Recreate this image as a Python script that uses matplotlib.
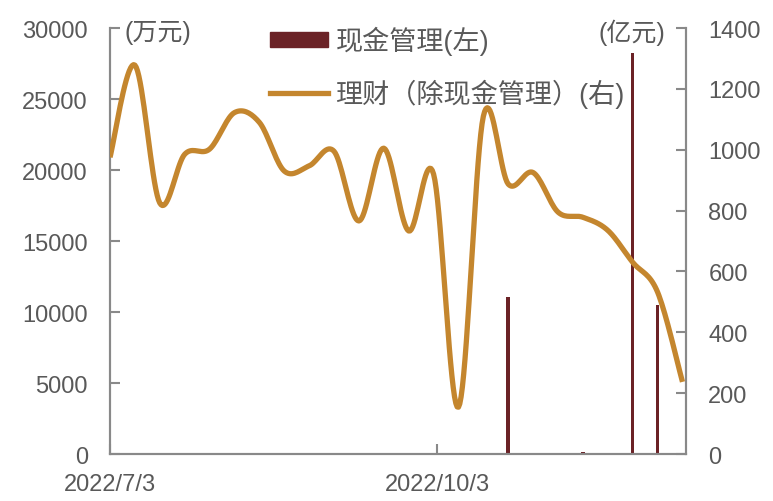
import numpy as np
import pandas as pd
import matplotlib
matplotlib.use("Agg")
import matplotlib.pyplot as plt
import matplotlib.dates as mdates
from matplotlib.patches import Patch
from matplotlib.lines import Line2D

plt.rcParams['font.family'] = ['Liberation Sans', 'Noto Sans CJK SC', 'DejaVu Sans']

# weekly data, Sundays from 2022/7/3
dates = pd.date_range('2022-07-03', periods=24, freq='7D')
wealth = [975, 1278, 825, 985, 1002, 1122, 1090, 930, 947, 995, 766, 1005,
          733, 920, 154, 1110, 887, 925, 795, 778, 735, 630, 532, 237]  # 亿元
cash_dates = pd.to_datetime(['2022-10-23', '2022-11-13', '2022-11-27', '2022-12-04'])
cash_vals = [11050, 120, 28250, 10500]  # 万元

line_color = '#C4862E'
bar_color = '#6B2226'
text_color = '#595959'
spine_color = '#898989'


def smooth(x, y, n=20):
    # Catmull-Rom style smoothing, like Excel's smoothed line
    x = np.asarray(x, float)
    y = np.asarray(y, float)
    xs, ys = [], []
    for i in range(len(x) - 1):
        x0, y0 = (x[i - 1], y[i - 1]) if i > 0 else (x[i], y[i])
        x3, y3 = (x[i + 2], y[i + 2]) if i + 2 < len(x) else (x[i + 1], y[i + 1])
        p0 = np.array([x[i], y[i]])
        p3 = np.array([x[i + 1], y[i + 1]])
        p1 = p0 + (p3 - np.array([x0, y0])) / 6
        p2 = p3 - (np.array([x3, y3]) - p0) / 6
        t = np.linspace(0, 1, n)[:, None]
        pts = ((1 - t) ** 3) * p0 + 3 * ((1 - t) ** 2) * t * p1 + 3 * (1 - t) * t ** 2 * p2 + t ** 3 * p3
        xs.extend(pts[:, 0])
        ys.extend(pts[:, 1])
    return np.array(xs), np.array(ys)


fig = plt.figure(figsize=(7.73, 5.02), dpi=100)
ax = fig.add_axes([0.1423, 0.0936, 0.7452, 0.8486])
ax2 = ax.twinx()

ax.bar(cash_dates, cash_vals, width=1.0, color=bar_color, zorder=2)

xn = mdates.date2num(dates)
sx, sy = smooth(xn, wealth)
ax2.plot(sx, sy, color=line_color, lw=3.8, solid_capstyle='butt', zorder=3)

x0 = mdates.date2num(pd.Timestamp('2022-07-03'))
ax.set_xlim(x0, x0 + 162)
ax.set_ylim(0, 30000)
ax2.set_ylim(0, 1400)
ax.set_yticks(np.arange(0, 30001, 5000))
ax2.set_yticks(np.arange(0, 1401, 200))
ax.set_xticks(mdates.date2num(pd.to_datetime(['2022-07-03', '2022-10-03'])))
ax.set_xticklabels(['2022/7/3', '2022/10/3'])

for a in (ax, ax2):
    for s in a.spines.values():
        s.set_color(spine_color)
        s.set_linewidth(1.5)
    a.spines['top'].set_visible(False)
    a.tick_params(direction='in', length=7, width=1.5, color=spine_color,
                  labelsize=17, labelcolor=text_color, pad=8)
ax.tick_params(axis='y', pad=16)
ax2.tick_params(axis='y', pad=16)
ax.tick_params(axis='x', pad=14)

ax.text(0.026, 0.99, '(万元)', transform=ax.transAxes, fontsize=18, color=text_color,
        ha='left', va='center')
ax2.text(0.9635, 0.99, '(亿元)', transform=ax.transAxes, fontsize=18, color=text_color,
         ha='right', va='center')

handles = [Patch(color=bar_color), Line2D([], [], color=line_color, lw=3.8)]
ax.legend(handles, ['现金管理(左)', '理财（除现金管理）(右)'], loc='upper left',
          bbox_to_anchor=(0.278, 1.005), frameon=False, fontsize=19.5,
          labelcolor=text_color, handlelength=2.15, handleheight=0.52,
          handletextpad=0.26, labelspacing=0.86, borderpad=0, borderaxespad=0)

fig.savefig('out.png', dpi=100)
